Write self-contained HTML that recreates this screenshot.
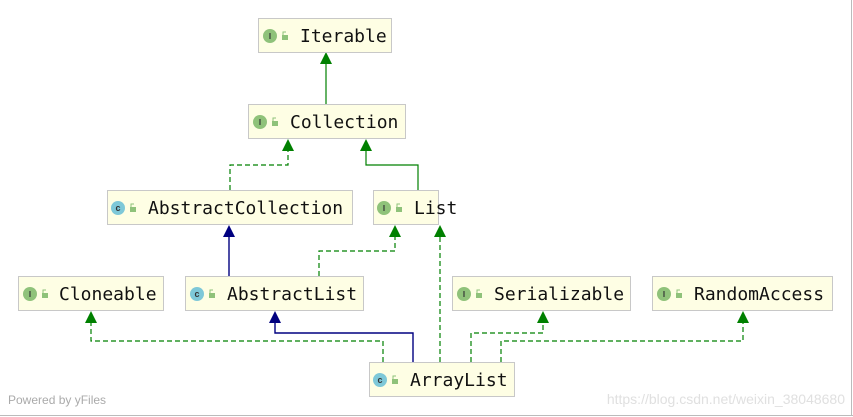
<!DOCTYPE html>
<html><head><style>
html,body{margin:0;padding:0;background:#fff;}
svg{display:block;}
.b{fill:#fefee4;stroke:#c8c8c8;stroke-width:1;}
.t{font-family:"DejaVu Sans Mono","Liberation Mono",monospace;font-size:18px;fill:#111;}
.g{stroke:#008000;fill:none;stroke-width:1.2;}
.d{stroke-dasharray:5,3;}
.n{stroke:#000080;fill:none;stroke-width:1.4;}
</style></head><body>
<svg width="853" height="417" viewBox="0 0 853 417">
<line x1="0" y1="415.5" x2="853" y2="415.5" stroke="#bbb"/>
<line x1="851.5" y1="0" x2="851.5" y2="416" stroke="#bbb"/>
<defs>
<g id="I"><circle r="7" fill="#8fc27a"/><text x="0" y="3" font-size="8" text-anchor="middle" font-family="Liberation Sans" fill="#333" font-weight="bold">I</text></g>
<g id="C"><circle r="7" fill="#7ec8d8"/><text x="0" y="3" font-size="9" text-anchor="middle" font-family="Liberation Sans" fill="#333" font-weight="bold">c</text></g>
<g id="L"><rect x="-3" y="-1" width="6" height="5" fill="#8fc27a"/><path d="M-2,-1 v-3 h3" stroke="#8fc27a" fill="none"/></g>
</defs>
<path class="g" d="M326,104 V60"/><polygon points="320,64 332,64 326,52" fill="#008000"/>
<path class="g d" d="M230,190 V165 H288 V147"/><polygon points="282,151 294,151 288,139" fill="#008000"/>
<path class="g" d="M418,190 V165 H366 V147"/><polygon points="360,151 372,151 366,139" fill="#008000"/>
<path class="n" d="M229,276 V233"/><polygon points="223,237 235,237 229,225" fill="#000080"/>
<path class="g d" d="M319,276 V251 H395 V233"/><polygon points="389,237 401,237 395,225" fill="#008000"/>
<path class="g d" d="M440,362 V233"/><polygon points="434,237 446,237 440,225" fill="#008000"/>
<path class="g d" d="M383,362 V341 H91 V319"/><polygon points="85,323 97,323 91,311" fill="#008000"/>
<path class="n" d="M413,362 V333 H275 V319"/><polygon points="269,323 281,323 275,311" fill="#000080"/>
<path class="g d" d="M471,362 V333 H543 V319"/><polygon points="537,323 549,323 543,311" fill="#008000"/>
<path class="g d" d="M501,362 V341 H743 V319"/><polygon points="737,323 749,323 743,311" fill="#008000"/>
<g><rect class="b" x="258.5" y="18.5" width="133" height="34"/><use href="#I" x="270" y="36"/><use href="#L" x="285" y="36"/><text class="t" x="300" y="42">Iterable</text></g>
<g><rect class="b" x="248.5" y="104.5" width="157" height="34"/><use href="#I" x="260" y="122"/><use href="#L" x="275" y="122"/><text class="t" x="290" y="128">Collection</text></g>
<g><rect class="b" x="107.5" y="190.5" width="245" height="34"/><use href="#C" x="118" y="208"/><use href="#L" x="133" y="208"/><text class="t" x="148" y="214">AbstractCollection</text></g>
<g><rect class="b" x="373.5" y="190.5" width="65" height="34"/><use href="#I" x="384" y="208"/><use href="#L" x="399" y="208"/><text class="t" x="414" y="214">List</text></g>
<g><rect class="b" x="18.5" y="276.5" width="145" height="34"/><use href="#I" x="30" y="294"/><use href="#L" x="45" y="294"/><text class="t" x="59" y="300">Cloneable</text></g>
<g><rect class="b" x="185.5" y="276.5" width="178" height="34"/><use href="#C" x="197" y="294"/><use href="#L" x="212" y="294"/><text class="t" x="227" y="300">AbstractList</text></g>
<g><rect class="b" x="452.5" y="276.5" width="178" height="34"/><use href="#I" x="464" y="294"/><use href="#L" x="479" y="294"/><text class="t" x="494" y="300">Serializable</text></g>
<g><rect class="b" x="652.5" y="276.5" width="180" height="34"/><use href="#I" x="664" y="294"/><use href="#L" x="679" y="294"/><text class="t" x="694" y="300">RandomAccess</text></g>
<g><rect class="b" x="369.5" y="362.5" width="145" height="34"/><use href="#C" x="380" y="380"/><use href="#L" x="395" y="380"/><text class="t" x="410" y="386">ArrayList</text></g>
<text x="8" y="404" font-family="Liberation Sans" font-size="12" fill="#aaa">Powered by yFiles</text>
<text x="845" y="404" text-anchor="end" font-family="Liberation Sans" font-size="14" fill="#e0e0e0">https://blog.csdn.net/weixin_38048680</text>
</svg>
</body></html>
